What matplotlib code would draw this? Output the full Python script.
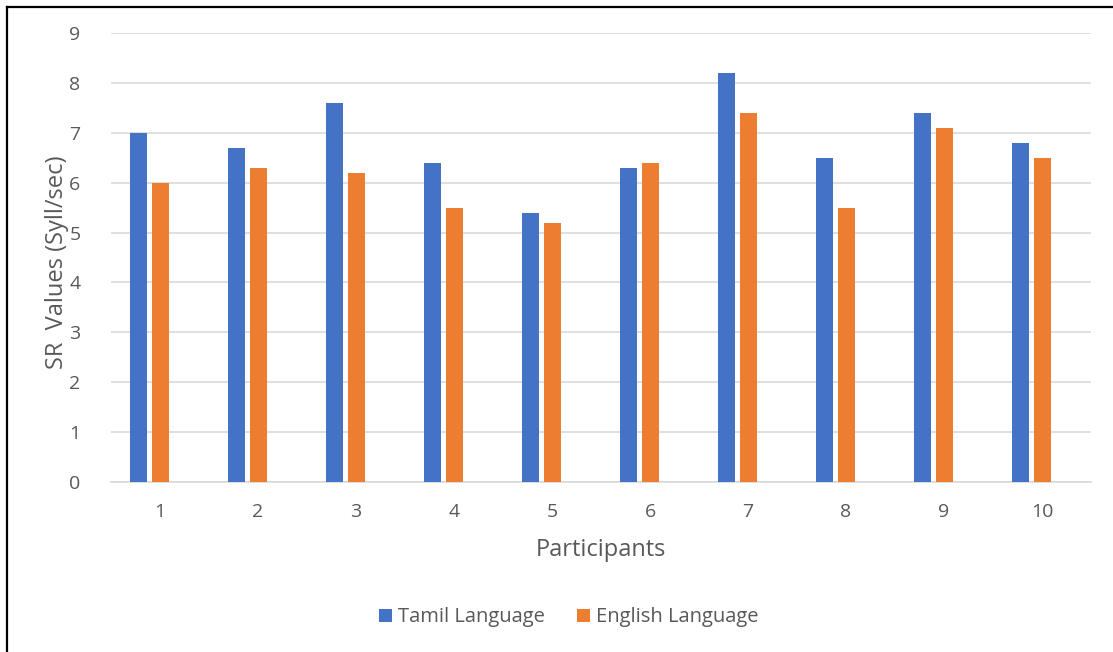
import matplotlib.pyplot as plt
import numpy as np
from matplotlib.lines import Line2D

participants = ["1", "2", "3", "4", "5", "6", "7", "8", "9", "10"]
tamil = [7.0, 6.7, 7.6, 6.4, 5.4, 6.3, 8.2, 6.5, 7.4, 6.8]
english = [6.0, 6.3, 6.2, 5.5, 5.2, 6.4, 7.4, 5.5, 7.1, 6.5]

BLUE = "#4472C4"
ORANGE = "#ED7D31"
TEXT = "#595959"
GRID = "#D9D9D9"

plt.rcParams["font.family"] = ["Open Sans", "DejaVu Sans"]

W, H = 1113, 652
fig = plt.figure(figsize=(W / 100, H / 100), dpi=100)
ax = fig.add_axes([111 / W, 1 - 482 / H, 980 / W, 449 / H])

x = np.arange(len(participants))
w = 0.173
# English bars sit on the category centre, Tamil bars just left of them
ax.bar(x - 0.218, tamil, w, color=BLUE, label="Tamil Language", zorder=3)
ax.bar(x + 0.005, english, w, color=ORANGE, label="English Language", zorder=3)

ax.set_xlim(-0.5, len(participants) - 0.5)
ax.set_ylim(0, 9)
ax.set_yticks(range(0, 10))
ax.set_xticks(x)
ax.set_xticklabels(participants)
ax.tick_params(axis="both", length=0, labelsize=14, colors=TEXT)
ax.tick_params(axis="x", pad=15)
ax.tick_params(axis="y", pad=22)
ax.yaxis.grid(True, color=GRID, linewidth=1.2, zorder=0)
for side in ["top", "right", "left"]:
    ax.spines[side].set_visible(False)
ax.spines["bottom"].set_color(GRID)
ax.spines["bottom"].set_linewidth(1.2)

ax.set_ylabel("SR  Values (Syll/sec)", fontsize=17, color=TEXT)
ax.yaxis.set_label_coords(-0.043, 0.49)
ax.set_xlabel("Participants", fontsize=17, color=TEXT, labelpad=12)

fig.legend(loc="center", bbox_to_anchor=(0.511, 0.053), ncol=2, frameon=False,
           fontsize=14.5, labelcolor=TEXT, handlelength=0.65, handleheight=0.65,
           handletextpad=0.3, columnspacing=1.6)

# frame edges along the top and left of the chart
fig.add_artist(Line2D([6.5 / W, 1], [1 - 6.5 / H, 1 - 6.5 / H], transform=fig.transFigure,
                      color="black", linewidth=1.6))
fig.add_artist(Line2D([6.5 / W, 6.5 / W], [0, 1 - 6.5 / H], transform=fig.transFigure,
                      color="black", linewidth=1.6))

fig.savefig("out.png", dpi=100)
